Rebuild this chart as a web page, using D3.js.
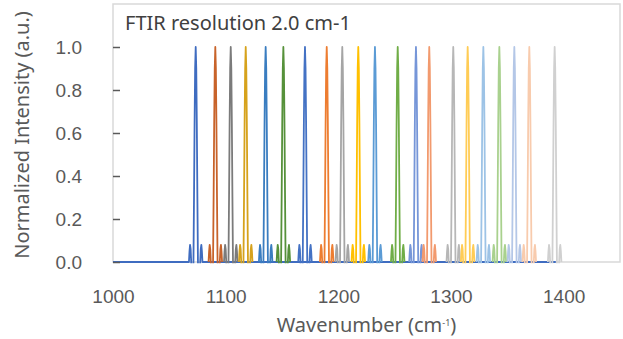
<!DOCTYPE html>
<html>
<head>
<meta charset="utf-8">
<script src="https://cdn.jsdelivr.net/npm/d3@7"></script>
<style>
  html, body { margin: 0; padding: 0; background: #fff; }
  svg { display: block; font-family: "Noto Sans", "Open Sans", sans-serif; }
</style>
</head>
<body>
<svg id="chart" width="623" height="339"></svg>
<script>
// Simulated FTIR band positions (cm-1), one spectrum per band
const peakCenters = [1073.4, 1090.8, 1104.5, 1117.8, 1135.5, 1151.2, 1170.4,
                     1189.7, 1203.5, 1217.7, 1232.5, 1252.7, 1268.9, 1280.7,
                     1302.0, 1314.8, 1328.7, 1342.9, 1356.2, 1369.5, 1392.0];

// Instrument line shape at 2.0 cm-1 resolution: offset from band centre (cm-1) and normalized intensity
const lineOffsets = [-6, -5.5, -5, -4.5, -4, -3.5, -3, -2.5, -2, -1.5, -1, -0.5,
                     0, 0.5, 1, 1.5, 2, 2.5, 3, 3.5, 4, 4.5, 5, 5.5, 6];
const lineShape = [0, 0.05, 0.08, 0.06, 0, -0.13, -0.21, -0.18, 0, 0.3, 0.64, 0.9,
                   1, 0.9, 0.64, 0.3, 0, -0.18, -0.21, -0.13, 0, 0.06, 0.08, 0.05, 0];

// Spectral window covered by the first spectrum's baseline
const baselineRange = [1000, 1393];

// Axis ticks
const xTicks = [1000, 1100, 1200, 1300, 1400];
const yTicks = [0, 0.2, 0.4, 0.6, 0.8, 1.0];

// Series colours
const seriesColors = ["#3f6cc0", "#c8632a", "#7b7b7b", "#d6a21c", "#3a7dc0", "#56913a",
                      "#4472c4", "#ed7d31", "#a5a5a5", "#ffc000", "#5b9bd5", "#70ad47",
                      "#7696d8", "#f29a6e", "#b7b7b7", "#ffcc55", "#9dc3e6", "#a9d18e",
                      "#b4c7e7", "#f8cbad", "#d0d0d0"];

const svg = d3.select("#chart");
const plot = { left: 113, right: 620, top: 4, bottom: 262 };

const x = d3.scaleLinear().domain([1000, 1450]).range([plot.left, plot.right]);
const y = d3.scaleLinear().domain([0, 1.2]).range([plot.bottom, plot.top]);

const textColor = "#595959";
const gridColor = "#d9d9d9";

// Clip spectra to the plot area (negative side lobes fall below the axis)
svg.append("defs").append("clipPath").attr("id", "plotClip")
  .append("rect")
  .attr("x", plot.left).attr("y", plot.top)
  .attr("width", plot.right - plot.left)
  .attr("height", plot.bottom - plot.top + 1.2);

// Plot area border
svg.append("rect")
  .attr("x", plot.left).attr("y", plot.top)
  .attr("width", plot.right - plot.left).attr("height", plot.bottom - plot.top)
  .attr("fill", "none").attr("stroke", gridColor).attr("stroke-width", 1.5);

// Build one spectrum per band
const spectra = peakCenters.map((c, i) => {
  let pts = lineOffsets.map((o, j) => [c + o, lineShape[j]]);
  if (i === 0) {
    pts = [[baselineRange[0], 0]].concat(pts, [[baselineRange[1], 0]]);
  }
  return { color: seriesColors[i], pts };
});

const line = d3.line().x(d => x(d[0])).y(d => y(d[1]));

svg.append("g").attr("clip-path", "url(#plotClip)")
  .selectAll("path")
  .data(spectra)
  .join("path")
  .attr("d", d => line(d.pts))
  .attr("fill", "none")
  .attr("stroke", d => d.color)
  .attr("stroke-width", 1.8)
  .attr("stroke-linejoin", "round");

// Y axis: inside tick marks, labels on the left
const yAxis = svg.append("g")
  .attr("transform", `translate(${plot.left},0)`)
  .call(d3.axisLeft(y).tickValues(yTicks).tickFormat(d3.format(".1f"))
    .tickSize(-7).tickPadding(31));
yAxis.select(".domain").remove();
yAxis.selectAll("line").attr("stroke", textColor).attr("stroke-width", 1.5);
yAxis.selectAll("text").attr("fill", textColor).style("font-size", "19px");

// X axis: labels only
const xAxis = svg.append("g")
  .attr("transform", `translate(0,${plot.bottom})`)
  .call(d3.axisBottom(x).tickValues(xTicks).tickFormat(d3.format("d"))
    .tickSize(0).tickPadding(27.5));
xAxis.select(".domain").remove();
xAxis.selectAll("text").attr("fill", textColor).style("font-size", "19px");

// Axis titles
const xTitle = svg.append("text")
  .attr("x", (plot.left + plot.right) / 2).attr("y", 332)
  .attr("text-anchor", "middle").attr("fill", textColor)
  .style("font-size", "20px");
xTitle.append("tspan").text("Wavenumber (cm");
xTitle.append("tspan").attr("baseline-shift", "super").style("font-size", "9px").text("-1");
xTitle.append("tspan").text(")");

svg.append("text")
  .attr("transform", `translate(28.5,${(plot.top + plot.bottom) / 2 + 2}) rotate(-90)`)
  .attr("text-anchor", "middle").attr("fill", textColor)
  .style("font-size", "20px")
  .text("Normalized Intensity (a.u.)");

// Annotation inside the plot
svg.append("text")
  .attr("x", 125).attr("y", 30)
  .attr("fill", "#404040")
  .style("font-size", "20px")
  .text("FTIR resolution 2.0 cm-1");
</script>
</body>
</html>
